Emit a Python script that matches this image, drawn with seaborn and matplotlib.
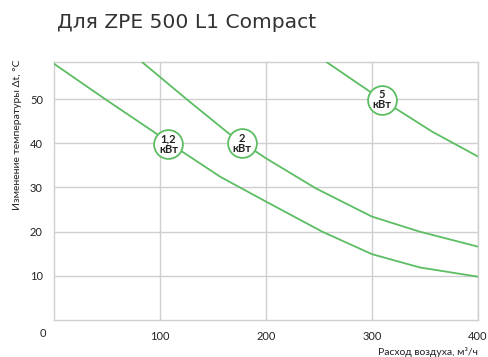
import numpy as np
import pandas as pd
import seaborn as sns
import matplotlib.pyplot as plt

# curves
x_12 = [0, 47, 94, 121, 157, 200, 253, 300, 345, 400]
y_12 = [58.0, 50.2, 42.6, 38.1, 32.4, 26.8, 20.0, 14.9, 11.9, 9.8]

x_2 = [83, 100, 126, 165, 200, 247, 300, 345, 400]
y_2 = [58.4, 55.0, 49.8, 42.2, 36.6, 29.8, 23.4, 20.0, 16.6]

x_5 = [257, 309, 357, 400]
y_5 = [58.4, 49.9, 42.6, 37.0]

power_labels = ["1,2\nкВт", "2\nкВт", "5\nкВт"]
label_x = [108, 177, 309]
label_y = [39.8, 40.0, 49.9]

x_ticks = [100, 200, 300, 400]
y_ticks = [10, 20, 30, 40, 50]

green = "#5cbd62"
grid = "#cfcfcf"

df = pd.concat([
    pd.DataFrame({"flow": x_12, "dt": y_12, "power": "1,2"}),
    pd.DataFrame({"flow": x_2, "dt": y_2, "power": "2"}),
    pd.DataFrame({"flow": x_5, "dt": y_5, "power": "5"}),
])

sns.set_style("white")
plt.rcParams['font.family'] = ['Lato', 'DejaVu Sans']

fig = plt.figure(figsize=(4.88, 3.57), dpi=100)
ax = fig.add_axes([54 / 488, 37 / 357, 424 / 488, 258 / 357])

sns.lineplot(data=df, x="flow", y="dt", hue="power", units="power", estimator=None,
             palette=[green] * 3, linewidth=1.3, legend=False, ax=ax, zorder=3)

ax.set_xlim(0, 400)
ax.set_ylim(0, 58.4)
ax.set_xticks(x_ticks)
ax.set_yticks(y_ticks)
ax.grid(True, color=grid, linewidth=1.0)
for s in ax.spines.values():
    s.set_color(grid)
    s.set_linewidth(1.0)
ax.tick_params(length=0, labelsize=8, colors="#222222", pad=8)

ax.annotate("0", xy=(0, 0), xytext=(-8, -10), textcoords="offset points",
            ha="center", va="center", fontsize=8, color="#222222")

# circle labels
sns.scatterplot(x=label_x, y=label_y, s=430, color="white", edgecolor=green,
                linewidth=1.3, ax=ax, zorder=4, clip_on=False)
for lx, ly, t in zip(label_x, label_y, power_labels):
    ax.text(lx, ly, t, ha="center", va="center", fontsize=8, fontweight="bold",
            color="#222222", zorder=5, linespacing=0.95)

ax.set_xlabel("")
ax.set_ylabel("")
fig.text(478 / 488, 1 - 352 / 357, "Расход воздуха, м³/ч", ha="right", va="center",
         fontsize=7.5, color="#222222")
fig.text(18 / 488, 1 - 135 / 357, "Изменение температуры Δt, °C", rotation=90,
         ha="center", va="center", fontsize=7.5, color="#222222")
fig.text(57 / 488, 1 - 22 / 357, "Для ZPE 500 L1 Compact", ha="left", va="center",
         fontsize=14.6, color="#333333", family="DejaVu Sans")

fig.savefig("out.png", dpi=100)
